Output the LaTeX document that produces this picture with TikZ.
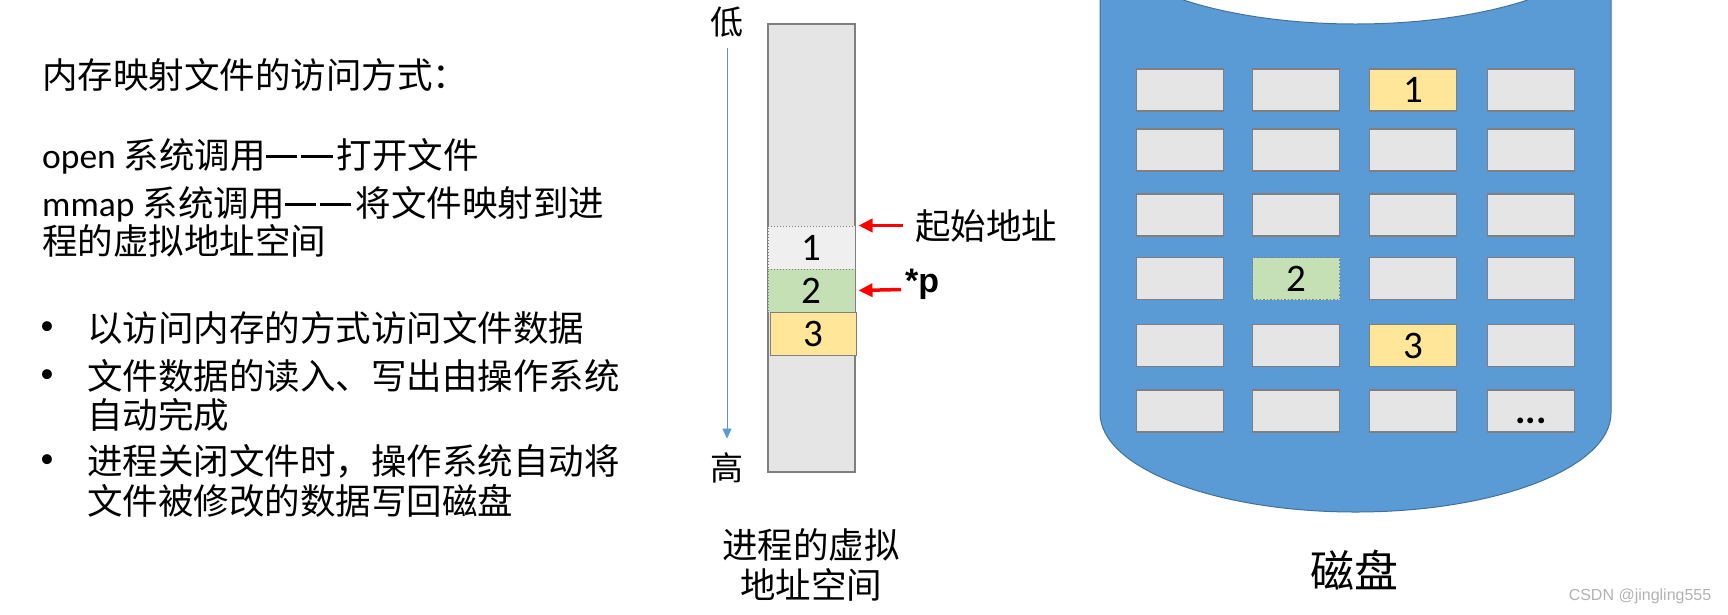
\documentclass[tikz,border=0pt]{standalone}
\usepackage{fontspec}
\setmainfont{Noto Sans CJK SC}
\newfontfamily\latinf{Carlito}
\newfontfamily\wmfont{Liberation Sans}
\usetikzlibrary{arrows.meta}
\definecolor{boxgray}{HTML}{E5E5E5}
\definecolor{edgegray}{HTML}{7F7F7F}
\definecolor{lightbox}{HTML}{EFEFEF}
\definecolor{greenbox}{HTML}{C5E0B4}
\definecolor{yellowbox}{HTML}{FFE699}
\definecolor{diskblue}{HTML}{5B9BD5}
\definecolor{diskedge}{HTML}{41719C}
\definecolor{arrowred}{HTML}{FF0000}
\newcommand\cjkdash{\rule[0.29em]{0.88em}{2.6pt}\hspace{0.12em}}
\expandafter\def\csname ct31\endcsname{1}
\expandafter\def\csname ct24\endcsname{2}
\expandafter\def\csname ct35\endcsname{3}
\expandafter\def\csname ct46\endcsname{\raisebox{-12pt}[0pt][0pt]{\bfseries...}}
\begin{document}
\begin{tikzpicture}[x=1pt,y=-1pt,
  txt/.style={inner sep=0pt, font=\fontsize{35.5}{40}\selectfont},
  leftline/.style={txt, anchor=west},
  bulletmark/.style={inner sep=0pt, font=\latinf\fontsize{28}{30}\selectfont},
  numfont/.style={font=\latinf\fontsize{39}{39}\selectfont},
  colbox/.style={draw=edgegray, line width=1.5pt, fill=boxgray, inner sep=0pt, minimum width=87pt, minimum height=448pt},
  blk/.style={draw=edgegray, line width=1pt, inner sep=0pt, minimum width=87pt, minimum height=43pt, numfont},
  cell/.style={draw=edgegray, line width=1.5pt, fill=boxgray, minimum width=87pt, minimum height=42pt, inner sep=0pt, numfont},
  c31/.style={fill=yellowbox},
  c24/.style={fill=greenbox, dotted, line width=1pt},
  c35/.style={fill=yellowbox},
  redarrow/.style={draw=arrowred, line width=3.5pt, -{Triangle[length=14pt,width=13pt]}},
  axisarrow/.style={draw=diskblue!70!gray, line width=0.8pt, -{Triangle[length=10pt,width=9pt,color=diskblue,fill=diskblue]}}
]
\useasboundingbox (0,0) rectangle (1728,614);

% ---------------- left text ----------------
\node[leftline] (t0) at (42,75) {内存映射文件的访问方式：};
\node[leftline] (t1) at (42,156) {{\latinf open} 系统调用\cjkdash\cjkdash 打开文件};
\node[leftline] (t2) at (42,204) {{\latinf mmap} 系统调用\cjkdash\cjkdash 将文件映射到进};
\node[leftline] (t3) at (42,241) {程的虚拟地址空间};
\node[bulletmark] (u1) at (47,328) {•};
\node[bulletmark] (u2) at (47,376) {•};
\node[bulletmark] (u3) at (47,461) {•};
\node[leftline] (t4) at (87,328) {以访问内存的方式访问文件数据};
\node[leftline] (t5) at (87,376) {文件数据的读入、写出由操作系统};
\node[leftline] (t6) at (87,415) {自动完成};
\node[leftline] (t7) at (87,461) {进程关闭文件时，操作系统自动将};
\node[leftline] (t8) at (87,501) {文件被修改的数据写回磁盘};

% ---------------- virtual address space ----------------
\node[colbox] (col) at (811.5,248) {};
\node[blk, fill=lightbox, dotted] (b1) at (811.5,247.5) {1};
\node[blk, fill=greenbox, dotted] (b2) at (811.5,290.5) {2};
\node[blk, fill=yellowbox, minimum width=86pt] (b3) at (813,333.5) {3};

\node[txt, font=\fontsize{33}{33}\selectfont] (low) at (727,22) {低};
\node[txt, font=\fontsize{33}{33}\selectfont] (high) at (727,468) {高};
\draw[axisarrow] ([yshift=-11pt]low.south) -- ([yshift=14pt]high.north);

\node[txt, anchor=west] (lbl1) at (915,226) {起始地址};
\node[inner sep=0pt, anchor=west, font=\wmfont\bfseries\fontsize{34}{34}\selectfont] (lblp) at (905,284) {*p};
\coordinate (s1) at (903,225.5);
\coordinate (s2) at (901,289.5);
\draw[redarrow] (s1) -- ([xshift=3pt]b1.north east);
\draw[redarrow] (s2) -- ([xshift=3pt]b2.east);

\node[txt] (cap1) at (811,545) {进程的虚拟};
\node[txt] (cap2) at (811,585) {地址空间};

% ---------------- disk ----------------
\begin{scope}
\clip (0,0) rectangle (1728,614);
\filldraw[fill=diskblue, draw=diskedge, line width=1pt]
  (1100,-120) -- (1100,413) arc[start angle=180, end angle=360, x radius=255.5pt, y radius=99pt]
  -- (1611,-120) -- cycle;
\filldraw[fill=white, draw=diskedge, line width=1pt] (1355.5,-68) ellipse [x radius=255.5pt, y radius=92pt];
\end{scope}

\foreach \cx [count=\i] in {1180,1296,1413,1531}{
  \foreach \ry [count=\j] in {90,150,215,278.5,345.5,411}{
    \node[cell, c\i\j/.try] (d\i\j) at (\cx,\ry) {\csname ct\i\j\endcsname};
  }
}

\node[txt, font=\fontsize{44}{44}\selectfont] (disk) at (1354,570) {磁盘};
\node[inner sep=0pt, text=gray!60, font=\wmfont\fontsize{16}{16}\selectfont] (wm) at (1640,596) {CSDN @jingling555};
\end{tikzpicture}
\end{document}
